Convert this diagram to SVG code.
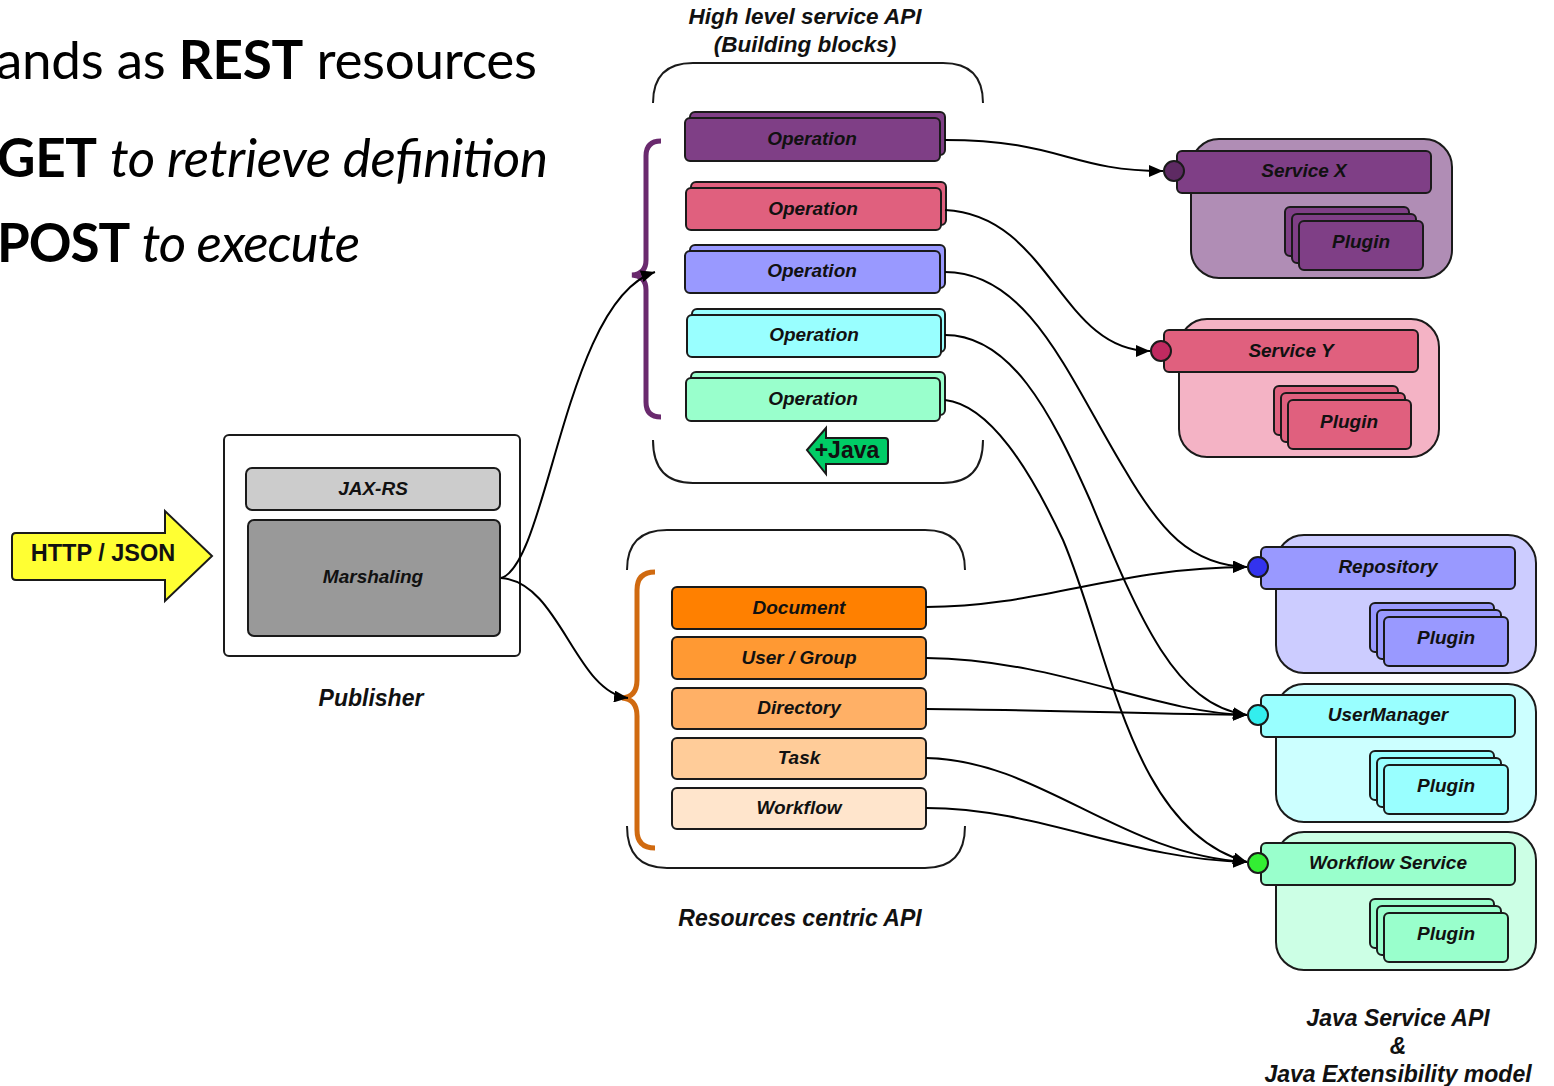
<svg xmlns="http://www.w3.org/2000/svg" width="1554" height="1086" viewBox="0 0 1554 1086">
  <defs>
    <marker id="arrow" viewBox="0 0 14 12" refX="14" refY="6" markerWidth="14" markerHeight="12" markerUnits="userSpaceOnUse" orient="auto">
      <path d="M0,0 L14,6 L0,12 Z" fill="#000"/>
    </marker>
    <style>
      .box { stroke: #1a1a1a; stroke-width: 2; }
      .lbl { font-family: "Liberation Sans", Arial, sans-serif; font-weight: bold; font-style: italic; fill: #111; text-anchor: middle; }
      .op { font-size: 19px; }
      .cap { font-size: 23px; }
      .edge { fill: none; stroke: #000; stroke-width: 2; marker-end: url(#arrow); }
      .frame { fill: none; stroke: #1a1a1a; stroke-width: 2; }
      .slide { font-family: Lato, "Open Sans", sans-serif; font-size: 53px; fill: #000; }
    </style>
  </defs>
  <rect width="1554" height="1086" fill="#fff"/>

  <!-- slide bullet text -->
  <g id="bullets">
    <text class="slide" x="-4" y="79" textLength="541">ands as <tspan font-weight="bold">REST</tspan> resources</text>
    <text class="slide" x="-3" y="177" textLength="551"><tspan font-weight="bold">GET</tspan> <tspan font-style="italic">to retrieve definition</tspan></text>
    <text class="slide" x="-3" y="262" textLength="363"><tspan font-weight="bold">POST</tspan> <tspan font-style="italic">to execute</tspan></text>
  </g>

  <!-- incoming request arrow -->
  <g id="http-json">
    <path class="box" d="M16,533 L165,533 L165,511 L212,556 L165,601 L165,580 L16,580 Q12,580 12,576 L12,537 Q12,533 16,533 Z" fill="#ffff33"/>
    <text x="103" y="561" font-family="Liberation Sans, Arial, sans-serif" font-weight="bold" font-size="23.5" text-anchor="middle" fill="#111">HTTP / JSON</text>
  </g>

  <!-- publisher -->
  <g id="publisher">
    <rect class="box" x="224" y="435" width="296" height="221" rx="5" fill="#fff"/>
    <rect class="box" x="246" y="468" width="254" height="42" rx="6" fill="#cccccc"/>
    <text class="lbl op" x="373" y="495">JAX-RS</text>
    <rect class="box" x="248" y="520" width="252" height="116" rx="6" fill="#999999"/>
    <text class="lbl op" x="373" y="583">Marshaling</text>
    <text class="lbl cap" x="371" y="706">Publisher</text>
  </g>

  <!-- high level service API frame -->
  <g id="high-level-api">
    <text class="lbl" x="805" y="24" font-size="22.5">High level service API</text>
    <text class="lbl" x="805" y="52" font-size="22.5">(Building blocks)</text>
    <path class="frame" d="M653,103 Q653,63 693,63 L943,63 Q983,63 983,103"/>
    <path class="frame" d="M653,440 Q653,483 693,483 L943,483 Q983,483 983,440"/>
    <path d="M661,141 Q646,141 646,156 L646,260 Q646,274 632,275 Q646,276 646,290 L646,402 Q646,417 661,417" fill="none" stroke="#6a2a6e" stroke-width="5"/>
  </g>

  <g id="op-1">
    <rect class="box" x="690" y="112" width="255" height="43" rx="5" fill="#7f3f86"/>
    <rect class="box" x="685" y="118" width="255" height="43" rx="5" fill="#7f3f86"/>
    <text class="lbl op" x="812" y="145">Operation</text>
  </g>
  <g id="op-2">
    <rect class="box" x="691" y="182" width="255" height="43" rx="5" fill="#e0607e"/>
    <rect class="box" x="686" y="188" width="255" height="42" rx="5" fill="#e0607e"/>
    <text class="lbl op" x="813" y="215">Operation</text>
  </g>
  <g id="op-3">
    <rect class="box" x="690" y="245" width="255" height="43" rx="5" fill="#9999ff"/>
    <rect class="box" x="685" y="251" width="255" height="42" rx="5" fill="#9999ff"/>
    <text class="lbl op" x="812" y="277">Operation</text>
  </g>
  <g id="op-4">
    <rect class="box" x="692" y="309" width="253" height="43" rx="5" fill="#99ffff"/>
    <rect class="box" x="687" y="315" width="254" height="42" rx="5" fill="#99ffff"/>
    <text class="lbl op" x="814" y="341">Operation</text>
  </g>
  <g id="op-5">
    <rect class="box" x="691" y="372" width="254" height="43" rx="5" fill="#99ffcc"/>
    <rect class="box" x="686" y="378" width="254" height="43" rx="5" fill="#99ffcc"/>
    <text class="lbl op" x="813" y="405">Operation</text>
  </g>

  <g id="java-tag">
    <path class="box" d="M807,450 L826,428 L826,438 L885,438 Q888,438 888,441 L888,461 Q888,464 885,464 L826,464 L826,474 Z" fill="#00cc66"/>
    <text x="847" y="458" font-family="Liberation Sans, Arial, sans-serif" font-weight="bold" font-size="23" text-anchor="middle" fill="#111">+Java</text>
  </g>

  <!-- resources centric API frame -->
  <g id="resources-api">
    <path class="frame" d="M627,570 Q627,530 667,530 L925,530 Q965,530 965,570"/>
    <path class="frame" d="M627,826 Q627,868 667,868 L925,868 Q965,868 965,826"/>
    <path d="M655,572 Q637,572 637,590 L637,680 Q637,697 622,698 Q637,699 637,716 L637,830 Q637,848 655,848" fill="none" stroke="#d06a10" stroke-width="5"/>
    <text class="lbl cap" x="800" y="926">Resources centric API</text>
  </g>

  <g id="res-document">
    <rect class="box" x="672" y="587" width="254" height="42" rx="5" fill="#ff8000"/>
    <text class="lbl op" x="799" y="614">Document</text>
  </g>
  <g id="res-user-group">
    <rect class="box" x="672" y="637" width="254" height="42" rx="5" fill="#ff9933"/>
    <text class="lbl op" x="799" y="664">User / Group</text>
  </g>
  <g id="res-directory">
    <rect class="box" x="672" y="688" width="254" height="41" rx="5" fill="#ffb066"/>
    <text class="lbl op" x="799" y="714">Directory</text>
  </g>
  <g id="res-task">
    <rect class="box" x="672" y="738" width="254" height="41" rx="5" fill="#ffcc99"/>
    <text class="lbl op" x="799" y="764">Task</text>
  </g>
  <g id="res-workflow">
    <rect class="box" x="672" y="788" width="254" height="41" rx="5" fill="#ffe5cc"/>
    <text class="lbl op" x="799" y="814">Workflow</text>
  </g>

  <!-- connectors -->
  <g id="connectors">
    <path class="edge" d="M501,578 C548,565 565,300 655,272"/>
    <path class="edge" d="M501,578 C560,582 575,692 628,698"/>
    <path class="edge" d="M945,140 C1060,140 1070,171 1163,171"/>
    <path class="edge" d="M945,210 C1050,215 1060,351 1150,351"/>
    <path class="edge" d="M945,272 C1030,272 1070,380 1125,470 C1160,530 1190,565 1247,567"/>
    <path class="edge" d="M945,335 C1010,335 1050,410 1090,500 C1140,620 1175,705 1247,715"/>
    <path class="edge" d="M945,400 C990,405 1030,470 1063,540 C1110,650 1130,830 1247,862"/>
    <path class="edge" d="M926,607 C1040,607 1120,567 1247,567"/>
    <path class="edge" d="M926,658 C1060,660 1150,712 1247,715"/>
    <path class="edge" d="M926,709 C1050,710 1150,714 1247,715"/>
    <path class="edge" d="M926,758 C1040,760 1120,855 1247,862"/>
    <path class="edge" d="M926,808 C1040,808 1130,860 1247,862"/>
  </g>

  <!-- Java services -->
  <g id="service-x">
    <rect class="box" x="1191" y="139" width="261" height="139" rx="28" fill="#b08db5"/>
    <rect class="box" x="1177" y="151" width="254" height="42" rx="5" fill="#7f3f86"/>
    <circle class="box" cx="1174" cy="171" r="10" fill="#5e2a63"/>
    <text class="lbl op" x="1304" y="177">Service X</text>
    <rect class="box" x="1285" y="207" width="124" height="49" rx="5" fill="#7f3f86"/>
    <rect class="box" x="1292" y="214" width="124" height="49" rx="5" fill="#7f3f86"/>
    <rect class="box" x="1299" y="221" width="124" height="49" rx="5" fill="#7f3f86"/>
    <text class="lbl op" x="1361" y="248">Plugin</text>
  </g>
  <g id="service-y">
    <rect class="box" x="1179" y="319" width="260" height="138" rx="28" fill="#f4b3c5"/>
    <rect class="box" x="1164" y="330" width="254" height="42" rx="5" fill="#e0607e"/>
    <circle class="box" cx="1161" cy="351" r="10" fill="#c02a60"/>
    <text class="lbl op" x="1291" y="357">Service Y</text>
    <rect class="box" x="1274" y="386" width="124" height="49" rx="5" fill="#e0607e"/>
    <rect class="box" x="1281" y="393" width="124" height="49" rx="5" fill="#e0607e"/>
    <rect class="box" x="1288" y="400" width="123" height="49" rx="5" fill="#e0607e"/>
    <text class="lbl op" x="1349" y="428">Plugin</text>
  </g>
  <g id="repository">
    <rect class="box" x="1276" y="535" width="260" height="138" rx="28" fill="#ccccff"/>
    <rect class="box" x="1261" y="547" width="254" height="42" rx="5" fill="#9999ff"/>
    <circle class="box" cx="1258" cy="567" r="10" fill="#3333ee"/>
    <text class="lbl op" x="1388" y="573">Repository</text>
    <rect class="box" x="1370" y="603" width="124" height="49" rx="5" fill="#9999ff"/>
    <rect class="box" x="1377" y="610" width="124" height="49" rx="5" fill="#9999ff"/>
    <rect class="box" x="1384" y="617" width="124" height="49" rx="5" fill="#9999ff"/>
    <text class="lbl op" x="1446" y="644">Plugin</text>
  </g>
  <g id="user-manager">
    <rect class="box" x="1276" y="684" width="260" height="138" rx="28" fill="#ccffff"/>
    <rect class="box" x="1261" y="695" width="254" height="42" rx="5" fill="#99ffff"/>
    <circle class="box" cx="1258" cy="715" r="10" fill="#33eeee"/>
    <text class="lbl op" x="1388" y="721">UserManager</text>
    <rect class="box" x="1370" y="751" width="124" height="49" rx="5" fill="#99ffff"/>
    <rect class="box" x="1377" y="758" width="124" height="49" rx="5" fill="#99ffff"/>
    <rect class="box" x="1384" y="765" width="124" height="49" rx="5" fill="#99ffff"/>
    <text class="lbl op" x="1446" y="792">Plugin</text>
  </g>
  <g id="workflow-service">
    <rect class="box" x="1276" y="832" width="260" height="138" rx="28" fill="#ccffe5"/>
    <rect class="box" x="1261" y="843" width="254" height="42" rx="5" fill="#99ffcc"/>
    <circle class="box" cx="1258" cy="863" r="10" fill="#33ee33"/>
    <text class="lbl op" x="1388" y="869">Workflow Service</text>
    <rect class="box" x="1370" y="899" width="124" height="49" rx="5" fill="#99ffcc"/>
    <rect class="box" x="1377" y="906" width="124" height="49" rx="5" fill="#99ffcc"/>
    <rect class="box" x="1384" y="913" width="124" height="49" rx="5" fill="#99ffcc"/>
    <text class="lbl op" x="1446" y="940">Plugin</text>
  </g>

  <g id="java-api-caption">
    <text class="lbl cap" x="1398" y="1026">Java Service API</text>
    <text class="lbl cap" x="1398" y="1054">&amp;</text>
    <text class="lbl cap" x="1398" y="1082">Java Extensibility model</text>
  </g>
</svg>
